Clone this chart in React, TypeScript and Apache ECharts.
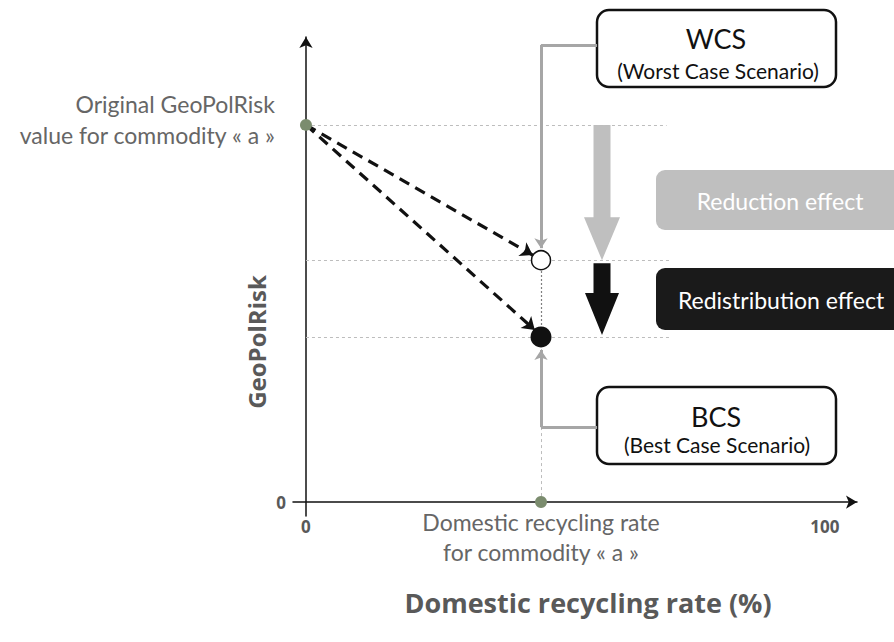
import React, { useEffect, useRef } from "react";
import * as echarts from "echarts";

// ---- data (axis units: x = recycling rate %, y = GeoPolRisk, arbitrary 0..100) ----
const xTickLabels = ["0", "100"];
const yTickLabels = ["0"];
const xMin = -2.5;
const xMax = 106.2;
const yMin = -3;
const yMax = 100;
const commodityRate = 45.3;
const originalValue = 81.1;
const wcsValue = 52.0;
const bcsValue = 35.5;
const guideEnd = 70.3;
// dashed arrows end just before the circles
const wcsArrowEnd = [43.7, 53.1];
const bcsArrowEnd = [44.1, 37.0];
// connector lines from the scenario boxes
const boxLeftX = 56.1;
const wcsConnectorY = 98.3;
const wcsConnectorTip = 54.6;
const bcsConnectorY = 16.1;
const bcsConnectorTip = 32.7;

const GRAY_TXT = "#666666";
const GREEN = "#7b8c6e";
const CONNECT = "#a6a6a6";
const FONT = "Lato, 'Open Sans', sans-serif";
const BOLD_FONT = "'Open Sans', 'Noto Sans', sans-serif";

export default function App() {
  const ref = useRef<HTMLDivElement>(null);
  useEffect(() => {
    if (!ref.current) return;
    const chart = echarts.init(ref.current, undefined, { renderer: "svg" });
    const labelStyle = {
      color: "#595959",
      fontWeight: "bold",
      fontSize: 17,
      fontFamily: BOLD_FONT,
    };
    const option: any = {
      animation: false,
      backgroundColor: "#ffffff",
      grid: { left: 293, right: 37, top: 37, bottom: 126 },
      xAxis: {
        type: "value",
        min: xMin,
        max: xMax,
        splitLine: { show: false },
        axisTick: { show: false },
        axisLine: {
          onZero: true,
          lineStyle: { color: "#111", width: 1.5 },
          symbol: ["none", "arrow"],
          symbolSize: [10, 11],
        },
        axisLabel: {
          margin: 2,
          ...labelStyle,
          formatter: (v: number) => (xTickLabels.includes(String(v)) ? String(v) : ""),
        },
      },
      yAxis: {
        type: "value",
        min: yMin,
        max: yMax,
        splitLine: { show: false },
        axisTick: { show: false },
        axisLine: {
          onZero: true,
          lineStyle: { color: "#111", width: 1.5 },
          symbol: ["none", "arrow"],
          symbolSize: [10, 11],
        },
        axisLabel: {
          margin: 7,
          ...labelStyle,
          formatter: (v: number) => (yTickLabels.includes(String(v)) ? String(v) : ""),
        },
      },
      series: [
        {
          type: "lines",
          coordinateSystem: "cartesian2d",
          silent: true,
          clip: false,
          lineStyle: { color: "#bdbdbd", width: 1, type: [3, 3], opacity: 1 },
          data: [
            { coords: [[0, originalValue], [guideEnd - 0.8, originalValue]] },
            { coords: [[0, wcsValue], [guideEnd, wcsValue]] },
            { coords: [[0, bcsValue], [guideEnd, bcsValue]] },
            { coords: [[commodityRate, 0], [commodityRate, bcsValue]] },
          ],
        },
        {
          type: "lines",
          coordinateSystem: "cartesian2d",
          silent: true,
          lineStyle: { color: "#7f7f7f", width: 1.2, type: [2, 2], opacity: 1 },
          data: [{ coords: [[commodityRate, bcsValue], [commodityRate, wcsValue]] }],
        },
        {
          type: "lines",
          coordinateSystem: "cartesian2d",
          silent: true,
          clip: false,
          lineStyle: { color: CONNECT, width: 3, opacity: 1 },
          data: [
            { coords: [[boxLeftX, wcsConnectorY], [commodityRate, wcsConnectorY]] },
            { coords: [[boxLeftX, bcsConnectorY], [commodityRate, bcsConnectorY]] },
          ],
        },
        {
          type: "lines",
          coordinateSystem: "cartesian2d",
          silent: true,
          clip: false,
          symbol: ["none", "arrow"],
          symbolSize: 10,
          lineStyle: { color: CONNECT, width: 3, opacity: 1 },
          data: [
            { coords: [[commodityRate, wcsConnectorY], [commodityRate, wcsConnectorTip]] },
            { coords: [[commodityRate, bcsConnectorY], [commodityRate, bcsConnectorTip]] },
          ],
        },
        {
          type: "lines",
          coordinateSystem: "cartesian2d",
          silent: true,
          symbol: ["none", "arrow"],
          symbolSize: 12,
          lineStyle: { color: "#111", width: 3.2, type: [11, 7], opacity: 1 },
          data: [
            { coords: [[0, originalValue], wcsArrowEnd] },
            { coords: [[0, originalValue], bcsArrowEnd] },
          ],
        },
        {
          type: "scatter",
          silent: true,
          symbolSize: 12,
          itemStyle: { color: GREEN, opacity: 1 },
          data: [[0, originalValue], [commodityRate, 0]],
          z: 5,
        },
        {
          type: "scatter",
          silent: true,
          symbolSize: 19,
          itemStyle: { color: "#ffffff", borderColor: "#111", borderWidth: 1.5, opacity: 1 },
          data: [[commodityRate, wcsValue]],
          z: 5,
        },
        {
          type: "scatter",
          silent: true,
          symbolSize: 21,
          itemStyle: { color: "#111111", opacity: 1 },
          data: [[commodityRate, bcsValue]],
          z: 5,
        },
      ],
    };
    chart.setOption(option);

    const yOrig = chart.convertToPixel({ gridIndex: 0 }, [0, originalValue])[1];
    const yW = chart.convertToPixel({ gridIndex: 0 }, [0, wcsValue])[1];
    const yB = chart.convertToPixel({ gridIndex: 0 }, [0, bcsValue])[1];
    const cx = 602;
    const arrow = (y0: number, y1: number, headLen: number, sw: number, hw: number) => [
      [cx - sw, y0], [cx + sw, y0], [cx + sw, y1 - headLen], [cx + hw, y1 - headLen],
      [cx, y1], [cx - hw, y1 - headLen], [cx - sw, y1 - headLen],
    ];

    const txt = (x: number, y: number, text: string, font: string, fill: string, extra: any = {}) => ({
      type: "text",
      x, y,
      silent: true,
      style: { text, fill, font, align: "center", verticalAlign: "middle", ...extra },
    });

    chart.setOption({
      graphic: [
        {
          type: "polygon",
          shape: { points: arrow(yOrig, yW, 43, 8.5, 18) },
          style: { fill: "#bfbfbf" },
          silent: true,
        },
        {
          type: "polygon",
          shape: { points: arrow(yW + 3, yB - 2, 42, 8.5, 17) },
          style: { fill: "#111111" },
          silent: true,
        },
        {
          type: "rect",
          shape: { x: 656, y: 170, width: 250, height: 60, r: 9 },
          style: { fill: "#bfbfbf" },
          silent: true,
        },
        txt(780, 201, "Reduction effect", `23px ${FONT}`, "#ffffff"),
        {
          type: "rect",
          shape: { x: 656, y: 268, width: 250, height: 62, r: 9 },
          style: { fill: "#1a1a1a" },
          silent: true,
        },
        txt(781, 300, "Redistribution effect", `23px ${FONT}`, "#ffffff"),
        {
          type: "rect",
          shape: { x: 597, y: 10, width: 239, height: 77, r: 12 },
          style: { fill: "#ffffff", stroke: "#111111", lineWidth: 2.5 },
          silent: true,
        },
        txt(716, 38, "WCS", `27px ${FONT}`, "#111"),
        txt(718, 70, "(Worst Case Scenario)", `21px ${FONT}`, "#111"),
        {
          type: "rect",
          shape: { x: 597, y: 387, width: 239, height: 77, r: 12 },
          style: { fill: "#ffffff", stroke: "#111111", lineWidth: 2.5 },
          silent: true,
        },
        txt(716, 416, "BCS", `27px ${FONT}`, "#111"),
        txt(717, 444, "(Best Case Scenario)", `21px ${FONT}`, "#111"),
        txt(275, 119, "Original GeoPolRisk\nvalue for commodity « a »", `23px ${FONT}`, GRAY_TXT, {
          align: "right",
          lineHeight: 31,
        }),
        txt(541, 537, "Domestic recycling rate\nfor commodity « a »", `23px ${FONT}`, GRAY_TXT, {
          lineHeight: 30,
        }),
        txt(588, 602, "Domestic recycling rate (%)", `bold 27px ${BOLD_FONT}`, "#595959"),
        {
          ...txt(256, 342, "GeoPolRisk", `bold 24px ${BOLD_FONT}`, "#595959"),
          rotation: Math.PI / 2,
        },
      ],
    });

    return () => chart.dispose();
  }, []);
  return <div ref={ref} style={{ width: 894, height: 642, position: "absolute", left: 0, top: 0 }} />;
}
